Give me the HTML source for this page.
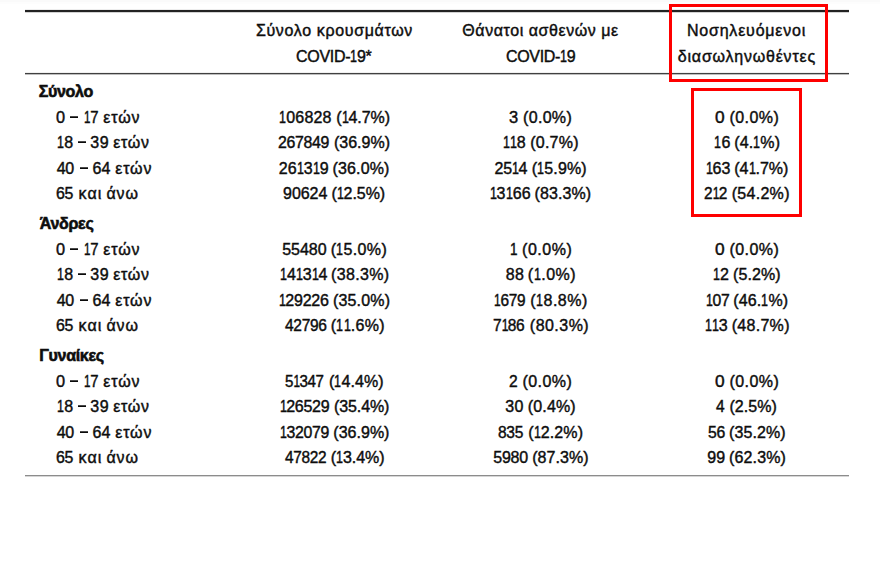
<!DOCTYPE html>
<html lang="el"><head><meta charset="utf-8"><title>COVID-19</title>
<style>
html,body{margin:0;padding:0;background:#fff;}
body{width:880px;height:566px;position:relative;overflow:hidden;font-family:"Liberation Sans",sans-serif;font-size:16px;line-height:20px;color:#0d0d0d;}
.ln{position:absolute;left:25px;width:824px;}
.p{position:absolute;white-space:pre;transform-origin:0 0;-webkit-text-stroke:0.42px #0d0d0d;}
.b{font-weight:bold;-webkit-text-stroke:0.6px #0d0d0d;}
.g{font-size:16px;}
.o{display:inline-block;font-weight:normal;letter-spacing:0;width:calc(6.941px + var(--l));transform:scaleX(0.78);transform-origin:0 0;}
.d{position:absolute;width:8px;height:2px;background:linear-gradient(#4a4a4a 50%,#0a0a0a 50%);}
.rb{position:absolute;border:3px solid #fe0000;box-sizing:border-box;}
</style></head><body>
<div style="position:absolute;left:0;top:0;width:880px;height:4px;background:linear-gradient(#fafafa 50%,#fdfdfd 50%);"></div>
<div class="ln" style="top:9px;height:2px;background:#222;border-top:1px solid #ededed;border-bottom:1px solid #d2d2d2;"></div>
<div class="ln" style="top:72px;height:1px;background:#404040;border-top:1px solid #f0f0f0;border-bottom:1px solid #bdbdbd;"></div>
<div class="ln" style="top:475px;height:1px;background:#8c8c8c;border-bottom:1px solid #d6d6d6;"></div>
<span class="p g" style="left:255.91px;top:21px;letter-spacing:0.65px;--l:0.65px">Σύνολο κρουσμάτων</span>
<span class="p" style="left:295.94px;top:47px;letter-spacing:-0.28px;--l:-0.28px">COVID-<b class="o">1</b>9*</span>
<span class="p g" style="left:462.34px;top:21px;letter-spacing:0.56px;--l:0.56px">Θάνατοι ασθενών με</span>
<span class="p" style="left:505.94px;top:47px;letter-spacing:-0.30px;--l:-0.30px">COVID-<b class="o">1</b>9</span>
<span class="p g" style="left:686.94px;top:21px;letter-spacing:0.80px;--l:0.80px">Νοσηλευόμενοι</span>
<span class="p g" style="left:677.83px;top:47px;letter-spacing:0.78px;--l:0.78px">διασωληνωθέντες</span>
<span class="p b" style="left:38.70px;top:82px;letter-spacing:-0.30px;--l:-0.30px">Σύνολο</span>
<span class="p" style="left:56.41px;top:108px;letter-spacing:0.00px;--l:0.00px;transform:scaleX(1.020)">0</span>
<i class="d" style="left:70px;top:116px"></i>
<span class="p" style="left:83.67px;top:108px;letter-spacing:-0.30px;--l:-0.30px;transform:scaleX(0.929)"><b class="o">1</b>7</span>
<span class="p g" style="left:103.35px;top:108px;letter-spacing:0.85px;--l:0.85px">ετών</span>
<span class="p" style="left:279.20px;top:108px;letter-spacing:0.16px;--l:0.16px"><b class="o">1</b>06828</span>
<span class="p" style="left:336.26px;top:108px;letter-spacing:-0.05px;--l:-0.05px">(<b class="o">1</b>4.7%)</span>
<span class="p" style="left:509.22px;top:108px;letter-spacing:0.00px;--l:0.00px;transform:scaleX(1.028)">3</span>
<span class="p" style="left:523.06px;top:108px;letter-spacing:0.31px;--l:0.31px">(0.0%)</span>
<span class="p" style="left:715.29px;top:108px;letter-spacing:0.00px;--l:0.00px;transform:scaleX(1.080)">0</span>
<span class="p" style="left:729.46px;top:108px;letter-spacing:0.43px;--l:0.43px">(0.0%)</span>
<span class="p" style="left:56.70px;top:133px;letter-spacing:0.51px;--l:0.51px"><b class="o">1</b>8</span>
<i class="d" style="left:78px;top:141px"></i>
<span class="p" style="left:90.14px;top:133px;letter-spacing:0.77px;--l:0.77px">39</span>
<span class="p g" style="left:113.35px;top:133px;letter-spacing:0.64px;--l:0.64px">ετών</span>
<span class="p" style="left:278.15px;top:133px;letter-spacing:-0.30px;--l:-0.30px;transform:scaleX(0.991)">267849</span>
<span class="p" style="left:333.96px;top:133px;letter-spacing:0.01px;--l:0.01px">(36.9%)</span>
<span class="p" style="left:502.50px;top:133px;letter-spacing:0.23px;--l:0.23px"><b class="o">1</b><b class="o">1</b>8</span>
<span class="p" style="left:530.26px;top:133px;letter-spacing:0.23px;--l:0.23px">(0.7%)</span>
<span class="p" style="left:713.60px;top:133px;letter-spacing:1.01px;--l:1.01px"><b class="o">1</b>6</span>
<span class="p" style="left:734.26px;top:133px;letter-spacing:0.12px;--l:0.12px">(4.<b class="o">1</b>%)</span>
<span class="p" style="left:56.68px;top:159px;letter-spacing:-0.25px;--l:-0.25px">40</span>
<i class="d" style="left:80px;top:167px"></i>
<span class="p" style="left:92.44px;top:159px;letter-spacing:0.08px;--l:0.08px">64</span>
<span class="p g" style="left:115.20px;top:159px;letter-spacing:0.85px;--l:0.85px">ετών</span>
<span class="p" style="left:278.75px;top:159px;letter-spacing:0.08px;--l:0.08px">26<b class="o">1</b>3<b class="o">1</b>9</span>
<span class="p" style="left:332.56px;top:159px;letter-spacing:0.14px;--l:0.14px">(36.0%)</span>
<span class="p" style="left:494.45px;top:159px;letter-spacing:-0.19px;--l:-0.19px">25<b class="o">1</b>4</span>
<span class="p" style="left:531.76px;top:159px;letter-spacing:0.14px;--l:0.14px">(<b class="o">1</b>5.9%)</span>
<span class="p" style="left:705.60px;top:159px;letter-spacing:0.06px;--l:0.06px"><b class="o">1</b>63</span>
<span class="p" style="left:734.26px;top:159px;letter-spacing:0.02px;--l:0.02px">(4<b class="o">1</b>.7%)</span>
<span class="p" style="left:56.24px;top:184px;letter-spacing:-0.30px;--l:-0.30px;transform:scaleX(0.993)">65</span>
<span class="p g" style="left:78.47px;top:184px;letter-spacing:1.14px;--l:1.14px">και</span>
<span class="p g" style="left:106.38px;top:184px;letter-spacing:0.94px;--l:0.94px">άνω</span>
<span class="p" style="left:283.10px;top:184px;letter-spacing:-0.07px;--l:-0.07px">90624</span>
<span class="p" style="left:331.46px;top:184px;letter-spacing:-0.06px;--l:-0.06px">(<b class="o">1</b>2.5%)</span>
<span class="p" style="left:489.50px;top:184px;letter-spacing:0.14px;--l:0.14px"><b class="o">1</b>3<b class="o">1</b>66</span>
<span class="p" style="left:534.46px;top:184px;letter-spacing:0.11px;--l:0.11px">(83.3%)</span>
<span class="p" style="left:704.37px;top:184px;letter-spacing:-0.30px;--l:-0.30px;transform:scaleX(0.963)">2<b class="o">1</b>2</span>
<span class="p" style="left:731.76px;top:184px;letter-spacing:0.28px;--l:0.28px">(54.2%)</span>
<span class="p b" style="left:39.77px;top:214px;letter-spacing:-0.28px;--l:-0.28px">Άνδρες</span>
<span class="p" style="left:56.41px;top:240px;letter-spacing:0.00px;--l:0.00px;transform:scaleX(1.020)">0</span>
<i class="d" style="left:70px;top:248px"></i>
<span class="p" style="left:83.67px;top:240px;letter-spacing:-0.30px;--l:-0.30px;transform:scaleX(0.929)"><b class="o">1</b>7</span>
<span class="p g" style="left:103.35px;top:240px;letter-spacing:0.85px;--l:0.85px">ετών</span>
<span class="p" style="left:282.21px;top:240px;letter-spacing:-0.03px;--l:-0.03px">55480</span>
<span class="p" style="left:330.66px;top:240px;letter-spacing:0.34px;--l:0.34px">(<b class="o">1</b>5.0%)</span>
<span class="p" style="left:509.97px;top:240px;letter-spacing:0.00px;--l:0.00px;transform:scaleX(1.080)"><b class="o">1</b></span>
<span class="p" style="left:522.06px;top:240px;letter-spacing:0.51px;--l:0.51px">(0.0%)</span>
<span class="p" style="left:715.29px;top:240px;letter-spacing:0.00px;--l:0.00px;transform:scaleX(1.080)">0</span>
<span class="p" style="left:729.46px;top:240px;letter-spacing:0.43px;--l:0.43px">(0.0%)</span>
<span class="p" style="left:56.70px;top:265px;letter-spacing:0.51px;--l:0.51px"><b class="o">1</b>8</span>
<i class="d" style="left:78px;top:273px"></i>
<span class="p" style="left:90.14px;top:265px;letter-spacing:0.77px;--l:0.77px">39</span>
<span class="p g" style="left:113.35px;top:265px;letter-spacing:0.64px;--l:0.64px">ετών</span>
<span class="p" style="left:280.00px;top:265px;letter-spacing:-0.04px;--l:-0.04px"><b class="o">1</b>4<b class="o">1</b>3<b class="o">1</b>4</span>
<span class="p" style="left:331.06px;top:265px;letter-spacing:0.33px;--l:0.33px">(38.3%)</span>
<span class="p" style="left:505.65px;top:265px;letter-spacing:0.39px;--l:0.39px">88</span>
<span class="p" style="left:527.86px;top:265px;letter-spacing:0.52px;--l:0.52px">(<b class="o">1</b>.0%)</span>
<span class="p" style="left:713.00px;top:265px;letter-spacing:0.12px;--l:0.12px"><b class="o">1</b>2</span>
<span class="p" style="left:732.96px;top:265px;letter-spacing:0.11px;--l:0.11px">(5.2%)</span>
<span class="p" style="left:56.68px;top:291px;letter-spacing:-0.25px;--l:-0.25px">40</span>
<i class="d" style="left:80px;top:299px"></i>
<span class="p" style="left:92.44px;top:291px;letter-spacing:0.08px;--l:0.08px">64</span>
<span class="p g" style="left:115.20px;top:291px;letter-spacing:0.85px;--l:0.85px">ετών</span>
<span class="p" style="left:278.60px;top:291px;letter-spacing:-0.22px;--l:-0.22px"><b class="o">1</b>29226</span>
<span class="p" style="left:332.96px;top:291px;letter-spacing:0.18px;--l:0.18px">(35.0%)</span>
<span class="p" style="left:494.34px;top:291px;letter-spacing:-0.30px;--l:-0.30px;transform:scaleX(0.960)"><b class="o">1</b>679</span>
<span class="p" style="left:530.26px;top:291px;letter-spacing:0.49px;--l:0.49px">(<b class="o">1</b>8.8%)</span>
<span class="p" style="left:705.82px;top:291px;letter-spacing:-0.30px;--l:-0.30px;transform:scaleX(0.983)"><b class="o">1</b>07</span>
<span class="p" style="left:733.36px;top:291px;letter-spacing:0.10px;--l:0.10px">(46.<b class="o">1</b>%)</span>
<span class="p" style="left:56.24px;top:316px;letter-spacing:-0.30px;--l:-0.30px;transform:scaleX(0.993)">65</span>
<span class="p g" style="left:78.47px;top:316px;letter-spacing:1.14px;--l:1.14px">και</span>
<span class="p g" style="left:106.38px;top:316px;letter-spacing:0.94px;--l:0.94px">άνω</span>
<span class="p" style="left:284.69px;top:316px;letter-spacing:-0.30px;--l:-0.30px;transform:scaleX(0.969)">42796</span>
<span class="p" style="left:330.66px;top:316px;letter-spacing:0.31px;--l:0.31px">(<b class="o">1</b><b class="o">1</b>.6%)</span>
<span class="p" style="left:493.16px;top:316px;letter-spacing:-0.30px;--l:-0.30px;transform:scaleX(0.968)">7<b class="o">1</b>86</span>
<span class="p" style="left:529.86px;top:316px;letter-spacing:0.46px;--l:0.46px">(80.3%)</span>
<span class="p" style="left:705.20px;top:316px;letter-spacing:-0.21px;--l:-0.21px"><b class="o">1</b><b class="o">1</b>3</span>
<span class="p" style="left:731.76px;top:316px;letter-spacing:0.28px;--l:0.28px">(48.7%)</span>
<span class="p b" style="left:39.23px;top:346px;letter-spacing:-0.30px;--l:-0.30px">Γυναίκες</span>
<span class="p" style="left:56.41px;top:372px;letter-spacing:0.00px;--l:0.00px;transform:scaleX(1.020)">0</span>
<i class="d" style="left:70px;top:380px"></i>
<span class="p" style="left:83.67px;top:372px;letter-spacing:-0.30px;--l:-0.30px;transform:scaleX(0.929)"><b class="o">1</b>7</span>
<span class="p g" style="left:103.35px;top:372px;letter-spacing:0.85px;--l:0.85px">ετών</span>
<span class="p" style="left:285.35px;top:372px;letter-spacing:-0.30px;--l:-0.30px;transform:scaleX(0.943)">5<b class="o">1</b>347</span>
<span class="p" style="left:329.06px;top:372px;letter-spacing:0.09px;--l:0.09px">(<b class="o">1</b>4.4%)</span>
<span class="p" style="left:509.47px;top:372px;letter-spacing:0.00px;--l:0.00px;transform:scaleX(0.974)">2</span>
<span class="p" style="left:522.46px;top:372px;letter-spacing:0.43px;--l:0.43px">(0.0%)</span>
<span class="p" style="left:715.29px;top:372px;letter-spacing:0.00px;--l:0.00px;transform:scaleX(1.080)">0</span>
<span class="p" style="left:729.46px;top:372px;letter-spacing:0.43px;--l:0.43px">(0.0%)</span>
<span class="p" style="left:56.70px;top:397px;letter-spacing:0.51px;--l:0.51px"><b class="o">1</b>8</span>
<i class="d" style="left:78px;top:405px"></i>
<span class="p" style="left:90.14px;top:397px;letter-spacing:0.77px;--l:0.77px">39</span>
<span class="p g" style="left:113.35px;top:397px;letter-spacing:0.64px;--l:0.64px">ετών</span>
<span class="p" style="left:279.60px;top:397px;letter-spacing:-0.28px;--l:-0.28px"><b class="o">1</b>26529</span>
<span class="p" style="left:333.96px;top:397px;letter-spacing:-0.09px;--l:-0.09px">(35.4%)</span>
<span class="p" style="left:505.34px;top:397px;letter-spacing:0.24px;--l:0.24px">30</span>
<span class="p" style="left:527.86px;top:397px;letter-spacing:0.13px;--l:0.13px">(0.4%)</span>
<span class="p" style="left:716.49px;top:397px;letter-spacing:0.00px;--l:0.00px;transform:scaleX(0.967)">4</span>
<span class="p" style="left:729.46px;top:397px;letter-spacing:0.03px;--l:0.03px">(2.5%)</span>
<span class="p" style="left:56.68px;top:423px;letter-spacing:-0.25px;--l:-0.25px">40</span>
<i class="d" style="left:80px;top:431px"></i>
<span class="p" style="left:92.44px;top:423px;letter-spacing:0.08px;--l:0.08px">64</span>
<span class="p g" style="left:115.20px;top:423px;letter-spacing:0.85px;--l:0.85px">ετών</span>
<span class="p" style="left:279.61px;top:423px;letter-spacing:-0.30px;--l:-0.30px;transform:scaleX(0.989)"><b class="o">1</b>32079</span>
<span class="p" style="left:333.36px;top:423px;letter-spacing:0.01px;--l:0.01px">(36.9%)</span>
<span class="p" style="left:498.48px;top:423px;letter-spacing:-0.30px;--l:-0.30px;transform:scaleX(0.971)">835</span>
<span class="p" style="left:528.26px;top:423px;letter-spacing:0.12px;--l:0.12px">(<b class="o">1</b>2.2%)</span>
<span class="p" style="left:707.82px;top:423px;letter-spacing:-0.30px;--l:-0.30px;transform:scaleX(0.984)">56</span>
<span class="p" style="left:729.06px;top:423px;letter-spacing:0.08px;--l:0.08px">(35.2%)</span>
<span class="p" style="left:56.24px;top:448px;letter-spacing:-0.30px;--l:-0.30px;transform:scaleX(0.993)">65</span>
<span class="p g" style="left:78.47px;top:448px;letter-spacing:1.14px;--l:1.14px">και</span>
<span class="p g" style="left:106.38px;top:448px;letter-spacing:0.94px;--l:0.94px">άνω</span>
<span class="p" style="left:284.70px;top:448px;letter-spacing:-0.30px;--l:-0.30px;transform:scaleX(0.962)">47822</span>
<span class="p" style="left:330.66px;top:448px;letter-spacing:-0.01px;--l:-0.01px">(<b class="o">1</b>3.4%)</span>
<span class="p" style="left:493.31px;top:448px;letter-spacing:-0.28px;--l:-0.28px">5980</span>
<span class="p" style="left:532.16px;top:448px;letter-spacing:0.08px;--l:0.08px">(87.3%)</span>
<span class="p" style="left:707.30px;top:448px;letter-spacing:0.01px;--l:0.01px">99</span>
<span class="p" style="left:729.06px;top:448px;letter-spacing:0.14px;--l:0.14px">(62.3%)</span>
<div class="rb" style="left:669px;top:4px;width:159px;height:78px;"></div>
<div class="rb" style="left:691px;top:88px;width:111px;height:129px;"></div>
</body></html>
